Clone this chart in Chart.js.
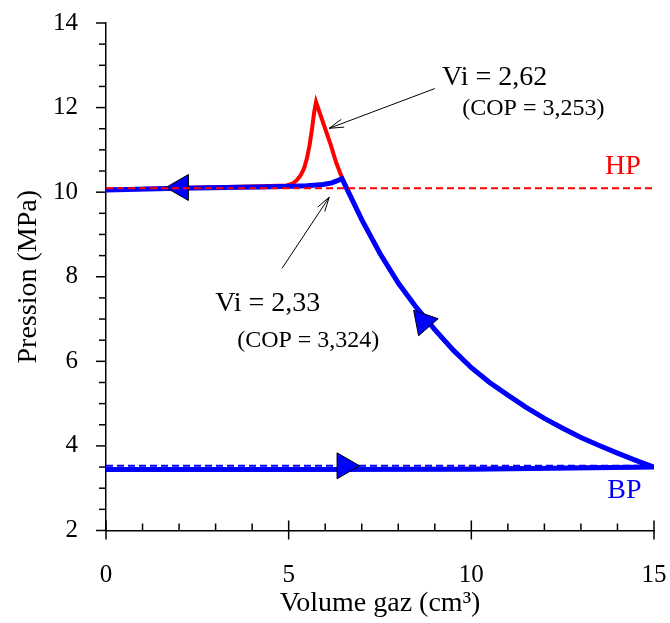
<!DOCTYPE html>
<html>
<head>
<meta charset="utf-8">
<script src="https://cdn.jsdelivr.net/npm/chart.js@4.4.1/dist/chart.umd.min.js"></script>
<style>
  html, body { margin: 0; padding: 0; background: #fff; }
  #wrap { width: 670px; height: 623px; }
</style>
</head>
<body>
<div id="wrap"><canvas id="myChart"></canvas></div>
<script>
// cycle Vi = 2,33 (blue) : suction, compression, discharge
var blueV = [0, 5, 10, 15, 14.5, 14, 13.5, 13, 12.5, 12, 11.5, 11, 10.5, 10, 9.5, 9, 8.5, 8, 7.5, 7, 6.75, 6.46, 6.3, 6.18, 5.95, 5.5, 5.1, 4.2, 2, 0];
var blueP = [3.44, 3.44, 3.45, 3.5, 3.66, 3.83, 4.01, 4.2, 4.42, 4.65, 4.91, 5.2, 5.5, 5.85, 6.27, 6.75, 7.27, 7.85, 8.55, 9.35, 9.8, 10.32, 10.26, 10.22, 10.18, 10.15, 10.14, 10.12, 10.09, 10.05];

// cycle Vi = 2,62 (red)
var redV = [0, 5, 10, 15, 14.5, 14, 13.5, 13, 12.5, 12, 11.5, 11, 10.5, 10, 9.5, 9, 8.5, 8, 7.5, 7, 6.75, 6.47, 6.3, 6.14, 6.0, 5.75, 5.7, 5.64, 5.57, 5.5, 5.42, 5.33, 5.22, 5.1, 4.95, 4.22, 2, 0];
var redP = [3.45, 3.45, 3.46, 3.5, 3.66, 3.83, 4.01, 4.2, 4.42, 4.65, 4.91, 5.2, 5.5, 5.85, 6.27, 6.75, 7.27, 7.85, 8.55, 9.35, 9.8, 10.32, 10.7, 11.15, 11.5, 12.13, 11.9, 11.5, 11.1, 10.8, 10.56, 10.4, 10.28, 10.2, 10.16, 10.14, 10.1, 10.06];

// HP / BP levels (dashed)
var levelV = [0, 15];
var hpP = [10.09, 10.09];
var bpP = [3.53, 3.53];

// direction arrows along the cycle
var arrowV = [2.05, 6.53, 8.69];
var arrowP = [10.11, 3.53, 6.94];

function toPoints(xs, ys) {
    return xs.map(function (x, i) { return { x: x, y: ys[i] }; });
}

Chart.defaults.font.family = '"Liberation Serif", "Times New Roman", serif';
Chart.defaults.color = '#000';

var notes = [
    { text: 'Vi = 2,62', x: 9.2, y: 12.53, size: 28, color: '#000', align: 'left' },
    { text: '(COP = 3,253)', x: 9.75, y: 11.82, size: 24, color: '#000', align: 'left' },
    { text: 'Vi = 2,33', x: 2.99, y: 7.2, size: 28, color: '#000', align: 'left' },
    { text: '(COP = 3,324)', x: 3.59, y: 6.35, size: 24, color: '#000', align: 'left' },
    { text: 'HP', x: 14.15, y: 10.44, size: 28, color: '#ff0000', align: 'center' },
    { text: 'BP', x: 14.19, y: 2.78, size: 28, color: '#0000ff', align: 'center' }
];
var pointers = [
    { from: [9.0, 12.45], to: [6.11, 11.51] },
    { from: [4.82, 8.2], to: [6.11, 9.88] }
];

function drawArrow(ctx, x1, y1, x2, y2) {
    ctx.beginPath();
    ctx.moveTo(x1, y1);
    ctx.lineTo(x2, y2);
    ctx.stroke();
    var a = Math.atan2(y1 - y2, x1 - x2);
    var len = 15, spread = 0.28;
    ctx.beginPath();
    ctx.moveTo(x2 + len * Math.cos(a + spread), y2 + len * Math.sin(a + spread));
    ctx.lineTo(x2, y2);
    ctx.lineTo(x2 + len * Math.cos(a - spread), y2 + len * Math.sin(a - spread));
    ctx.stroke();
}

var extras = {
    id: 'extras',
    afterDraw: function (chart) {
        var ctx = chart.ctx, xs = chart.scales.x, ys = chart.scales.y;
        var area = chart.chartArea;
        ctx.save();
        ctx.strokeStyle = '#000';
        ctx.lineWidth = 1.5;
        // y ticks, outside
        for (var v = 2; v <= 14.001; v += 0.5) {
            var py = ys.getPixelForValue(v);
            var len = (Math.abs(v % 2) < 0.001) ? 10 : 7;
            ctx.beginPath();
            ctx.moveTo(area.left - len, py);
            ctx.lineTo(area.left, py);
            ctx.stroke();
        }
        // x ticks, inside (majors cross the axis)
        for (var u = 0; u <= 15; u += 1) {
            var px = xs.getPixelForValue(u);
            ctx.beginPath();
            if (u % 5 === 0) {
                ctx.moveTo(px, area.bottom - 10);
                ctx.lineTo(px, area.bottom + 9);
            } else {
                ctx.moveTo(px, area.bottom - 7);
                ctx.lineTo(px, area.bottom);
            }
            ctx.stroke();
        }
        // annotation pointers
        ctx.lineWidth = 1;
        pointers.forEach(function (p) {
            drawArrow(ctx,
                xs.getPixelForValue(p.from[0]), ys.getPixelForValue(p.from[1]),
                xs.getPixelForValue(p.to[0]), ys.getPixelForValue(p.to[1]));
        });
        // texts
        ctx.textBaseline = 'alphabetic';
        notes.forEach(function (n) {
            ctx.font = n.size + 'px "Liberation Serif", "Times New Roman", serif';
            ctx.fillStyle = n.color;
            ctx.textAlign = n.align;
            ctx.fillText(n.text, xs.getPixelForValue(n.x), ys.getPixelForValue(n.y));
        });
        ctx.restore();
    }
};

function noOverflow(s) {
    s.paddingLeft = 0;
    s.paddingRight = 0;
    s.paddingTop = 0;
    s.paddingBottom = 0;
}

var ctx = document.getElementById('myChart').getContext('2d');
var myChart = new Chart(ctx, {
    type: 'scatter',
    data: {
        datasets: [
            {
                label: 'HP',
                data: toPoints(levelV, hpP),
                showLine: true,
                borderColor: '#ff0000',
                borderWidth: 2,
                borderDash: [7, 4],
                pointRadius: 0,
                order: 0
            },
            {
                label: 'arrows',
                data: toPoints(arrowV, arrowP),
                showLine: false,
                pointStyle: 'triangle',
                pointRadius: 15,
                pointRotation: [-90, 90, -41],
                backgroundColor: '#0000ff',
                borderColor: '#000',
                borderWidth: 1,
                order: 1
            },
            {
                label: 'BP',
                data: toPoints(levelV, bpP),
                showLine: true,
                borderColor: '#0000ff',
                borderWidth: 2,
                borderDash: [7, 4],
                pointRadius: 0,
                order: 2
            },
            {
                label: 'Vi = 2,33',
                data: toPoints(blueV, blueP),
                showLine: true,
                borderColor: '#0000ff',
                borderWidth: 5,
                pointRadius: 0,
                tension: 0,
                order: 3
            },
            {
                label: 'Vi = 2,62',
                data: toPoints(redV, redP),
                showLine: true,
                borderColor: '#ff0000',
                borderWidth: 4,
                pointRadius: 0,
                tension: 0,
                order: 4
            }
        ]
    },
    options: {
        responsive: true,
        maintainAspectRatio: false,
        animation: false,
        layout: { padding: { top: 23, right: 16, left: 0, bottom: 0 } },
        plugins: {
            legend: { display: false },
            tooltip: { enabled: false }
        },
        scales: {
            x: {
                type: 'linear',
                min: 0,
                max: 15,
                grid: { display: false },
                border: { display: true, color: '#000', width: 1.5 },
                ticks: { stepSize: 5, font: { size: 25 }, padding: 22, color: '#000' },
                title: {
                    display: true,
                    text: 'Volume gaz (cm³)',
                    font: { size: 28 },
                    color: '#000',
                    padding: { top: 0, bottom: 3 }
                },
                afterFit: function (s) { s.height = 92.5; noOverflow(s); }
            },
            y: {
                type: 'linear',
                min: 2,
                max: 14,
                grid: { display: false },
                border: { display: true, color: '#000', width: 1.5 },
                ticks: { stepSize: 2, font: { size: 25 }, padding: 20, color: '#000' },
                title: {
                    display: true,
                    text: 'Pression (MPa)',
                    font: { size: 28 },
                    color: '#000',
                    padding: { top: 12, bottom: 0 }
                },
                afterFit: function (s) { s.width = 106; noOverflow(s); }
            }
        }
    },
    plugins: [extras]
});
</script>
</body>
</html>
